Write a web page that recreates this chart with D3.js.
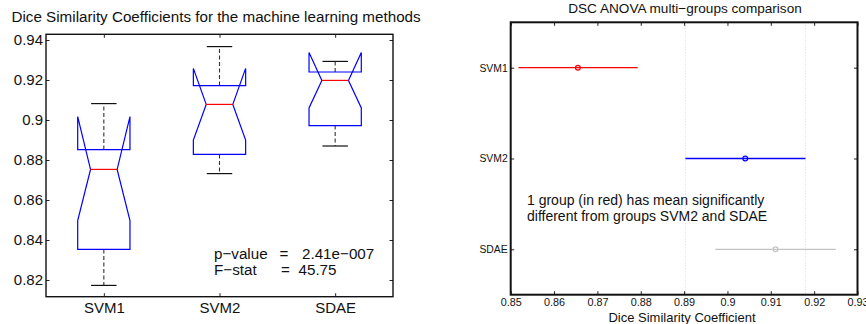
<!DOCTYPE html>
<html>
<head>
<meta charset="utf-8">
<script src="https://cdn.jsdelivr.net/npm/d3@7"></script>
<style>
  html, body { margin: 0; padding: 0; background: #fff; }
  svg { display: block; font-family: "Liberation Sans", Arial, Helvetica, sans-serif; }
  .axis .domain { display: none; }
</style>
</head>
<body>
<svg id="chart" width="866" height="324"></svg>
<script>
// ---------- Data: left panel (notched box plots) ----------
const categories   = ["SVM1", "SVM2", "SDAE"];
const whiskerLow   = [0.8173, 0.8732, 0.8870];
const quartile1    = [0.8353, 0.8828, 0.8972];
const medians      = [0.8753, 0.9078, 0.9198];
const quartile3    = [0.8852, 0.9172, 0.9240];
const whiskerHigh  = [0.9082, 0.9367, 0.9293];
const notchLow     = [0.8497, 0.8900, 0.9060];
const notchHigh    = [0.9017, 0.9258, 0.9338];
const boxYTicks    = [0.82, 0.84, 0.86, 0.88, 0.90, 0.92, 0.94];
const pValueText   = "2.41e\u2212007";
const fStatText    = "45.75";

// ---------- Data: right panel (multiple comparison intervals) ----------
const groupMeans   = [0.8655, 0.9041, 0.9111];
const ciLow        = [0.8518, 0.8903, 0.8972];
const ciHigh       = [0.8793, 0.9180, 0.9250];
const compXTicks   = [0.85, 0.86, 0.87, 0.88, 0.89, 0.90, 0.91, 0.92, 0.93];
const groupColors  = ["#ff0000", "#0000ff", "#c4c4c4"];

const fmt = d => String(+d.toFixed(2));
const svg = d3.select("#chart");

// ================= LEFT PANEL =================
{
  const L = 46, R = 393, T = 34.3, B = 296.7;
  const x = d3.scaleLinear().domain([0.5, 3.5]).range([L, R]);
  const y = d3.scaleLinear().domain([0.81165, 0.94285]).range([B, T]);
  const g = svg.append("g");

  g.append("text").attr("x", 11.5).attr("y", 22).attr("font-size", 15.2)
    .attr("fill", "#111").text("Dice Similarity Coefficients for the machine learning methods");

  // y axes (left + right mirror), ticks inside
  g.append("g").attr("class", "axis").attr("transform", `translate(${L},0)`)
    .call(d3.axisLeft(y).tickValues(boxYTicks).tickFormat(fmt).tickSize(-3.5).tickPadding(3))
    .call(s => s.selectAll("text").attr("font-size", 15).attr("fill", "#111").attr("font-family", null))
    .call(s => s.selectAll("line").attr("stroke", "#222"));
  g.append("g").attr("class", "axis").attr("transform", `translate(${R},0)`)
    .call(d3.axisRight(y).tickValues(boxYTicks).tickFormat("").tickSize(-3.5))
    .call(s => s.selectAll("line").attr("stroke", "#222"));
  // x axes
  g.append("g").attr("class", "axis").attr("transform", `translate(0,${B})`)
    .call(d3.axisBottom(x).tickValues([1, 2, 3]).tickFormat((d, i) => categories[i]).tickSize(-3.5).tickPadding(6))
    .call(s => s.selectAll("text").attr("font-size", 15).attr("fill", "#111").attr("font-family", null))
    .call(s => s.selectAll("line").attr("stroke", "#222"));
  g.append("g").attr("class", "axis").attr("transform", `translate(0,${T})`)
    .call(d3.axisTop(x).tickValues([1, 2, 3]).tickFormat("").tickSize(-3.5))
    .call(s => s.selectAll("line").attr("stroke", "#222"));

  const hw = 0.226, nw = 0.115, cw = 0.11;
  categories.forEach((c, i) => {
    const cx = i + 1;
    // dashed whiskers
    g.append("line").attr("x1", x(cx)).attr("x2", x(cx))
      .attr("y1", y(quartile3[i])).attr("y2", y(whiskerHigh[i]))
      .attr("stroke", "#333").attr("stroke-width", 1.1).attr("stroke-dasharray", "4,2.5");
    g.append("line").attr("x1", x(cx)).attr("x2", x(cx))
      .attr("y1", y(quartile1[i])).attr("y2", y(whiskerLow[i]))
      .attr("stroke", "#333").attr("stroke-width", 1.1).attr("stroke-dasharray", "4,2.5");
    // caps
    [whiskerHigh[i], whiskerLow[i]].forEach(v => {
      g.append("line").attr("x1", x(cx - cw)).attr("x2", x(cx + cw))
        .attr("y1", y(v)).attr("y2", y(v)).attr("stroke", "#111").attr("stroke-width", 1.2);
    });
    // notched box
    const pts = [
      [cx - hw, quartile1[i]], [cx - hw, notchLow[i]], [cx - nw, medians[i]],
      [cx - hw, notchHigh[i]], [cx - hw, quartile3[i]], [cx + hw, quartile3[i]],
      [cx + hw, notchHigh[i]], [cx + nw, medians[i]], [cx + hw, notchLow[i]],
      [cx + hw, quartile1[i]]
    ];
    g.append("path")
      .attr("d", d3.line().x(p => x(p[0])).y(p => y(p[1])).curve(d3.curveLinearClosed)(pts))
      .attr("fill", "none").attr("stroke", "#0000ff").attr("stroke-width", 1.2);
    // median
    g.append("line").attr("x1", x(cx - nw)).attr("x2", x(cx + nw))
      .attr("y1", y(medians[i])).attr("y2", y(medians[i]))
      .attr("stroke", "#ff0000").attr("stroke-width", 1.2);
  });

  // frame
  g.append("rect").attr("x", L).attr("y", T).attr("width", R - L).attr("height", B - T)
    .attr("fill", "none").attr("stroke", "#111").attr("stroke-width", 1.4);

  // annotation
  const ann = g.append("g").attr("font-size", 15.2).attr("fill", "#111");
  ann.append("text").attr("x", 214).attr("y", 258.5).text("p\u2212value");
  ann.append("text").attr("x", 284).attr("y", 258.5).attr("text-anchor", "middle").text("=");
  ann.append("text").attr("x", 302).attr("y", 258.5).text(pValueText);
  ann.append("text").attr("x", 214).attr("y", 274.5).text("F\u2212stat");
  ann.append("text").attr("x", 285.5).attr("y", 274.5).attr("text-anchor", "middle").text("=");
  ann.append("text").attr("x", 298.5).attr("y", 274.5).text(fStatText);
}

// ================= RIGHT PANEL =================
{
  const L = 510.7, R = 857.5, T = 22.3, B = 294.7;
  const x = d3.scaleLinear().domain([0.85, 0.93]).range([L, R]);
  const y = d3.scaleLinear().domain([0.5, 3.5]).range([T, B]);
  const g = svg.append("g");

  g.append("text").attr("x", 685).attr("y", 12.5).attr("text-anchor", "middle")
    .attr("font-size", 13.6).attr("fill", "#111").text("DSC ANOVA multi\u2212groups comparison");

  // dotted reference lines at the selected group's interval (SVM2)
  [ciLow[1], ciHigh[1]].forEach(v => {
    g.append("line").attr("x1", x(v)).attr("x2", x(v)).attr("y1", T).attr("y2", B)
      .attr("stroke", "#d8d8d8").attr("stroke-width", 1).attr("stroke-dasharray", "1,2");
  });

  g.append("g").attr("class", "axis").attr("transform", `translate(0,${B})`)
    .call(d3.axisBottom(x).tickValues(compXTicks).tickFormat(fmt).tickSize(-3.5).tickPadding(4))
    .call(s => s.selectAll("text").attr("font-size", 10.8).attr("fill", "#111").attr("font-family", null))
    .call(s => s.selectAll("line").attr("stroke", "#222"));
  g.append("g").attr("class", "axis").attr("transform", `translate(0,${T})`)
    .call(d3.axisTop(x).tickValues(compXTicks).tickFormat("").tickSize(-3.5))
    .call(s => s.selectAll("line").attr("stroke", "#222"));
  g.append("g").attr("class", "axis").attr("transform", `translate(${L},0)`)
    .call(d3.axisLeft(y).tickValues([1, 2, 3]).tickFormat((d, i) => categories[i]).tickSize(-3.5).tickPadding(3))
    .call(s => s.selectAll("text").attr("font-size", 10.4).attr("fill", "#111").attr("font-family", null))
    .call(s => s.selectAll("line").attr("stroke", "#222"));
  g.append("g").attr("class", "axis").attr("transform", `translate(${R},0)`)
    .call(d3.axisRight(y).tickValues([1, 2, 3]).tickFormat("").tickSize(-3.5))
    .call(s => s.selectAll("line").attr("stroke", "#222"));

  g.append("text").attr("x", 682).attr("y", 322).attr("text-anchor", "middle")
    .attr("font-size", 13).attr("fill", "#111").text("Dice Similarity Coefficient");

  categories.forEach((c, i) => {
    const cy = y(i + 1);
    g.append("line").attr("x1", x(ciLow[i])).attr("x2", x(ciHigh[i]))
      .attr("y1", cy).attr("y2", cy).attr("stroke", groupColors[i]).attr("stroke-width", 1.3);
    g.append("circle").attr("cx", x(groupMeans[i])).attr("cy", cy).attr("r", 2.4)
      .attr("fill", "none").attr("stroke", groupColors[i]).attr("stroke-width", 1.2);
  });

  const t = g.append("text").attr("font-size", 14).attr("fill", "#111");
  t.append("tspan").attr("x", 527).attr("y", 204.5).text("1 group (in red) has mean significantly");
  t.append("tspan").attr("x", 527).attr("y", 220.5).text("different from groups SVM2 and SDAE");

  g.append("rect").attr("x", L).attr("y", T).attr("width", R - L).attr("height", B - T)
    .attr("fill", "none").attr("stroke", "#111").attr("stroke-width", 2);
}
</script>
</body>
</html>
